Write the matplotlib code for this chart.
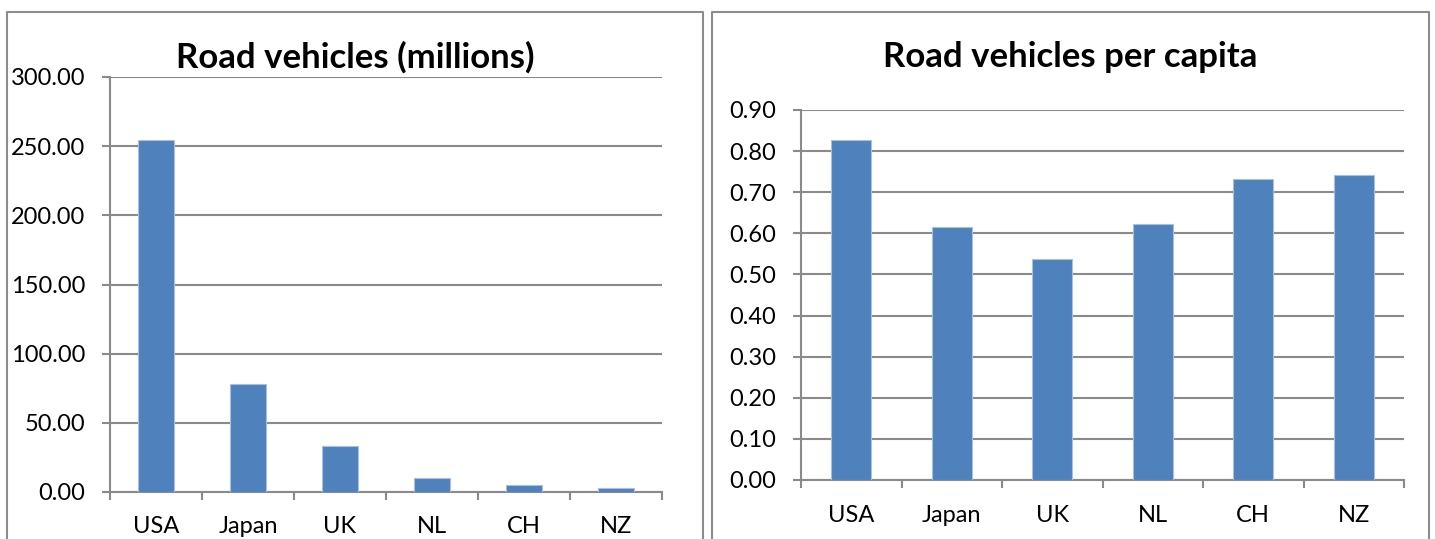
import matplotlib.pyplot as plt
from matplotlib.lines import Line2D
from matplotlib.ticker import FixedLocator, FormatStrFormatter

plt.rcParams['font.family'] = ['Lato', 'DejaVu Sans']

countries = ['USA', 'Japan', 'UK', 'NL', 'CH', 'NZ']
vehicles_millions = [254.1, 78.3, 33.3, 9.9, 5.1, 2.7]
vehicles_per_capita = [0.828, 0.615, 0.538, 0.622, 0.732, 0.742]

bar_color = '#4F81BD'
grid_color = '#8A8A8A'

fig = plt.figure(figsize=(14.35, 5.39), dpi=100)

# panel frames (bottom edge runs off the figure)
W, H = 1435.0, 539.0
for x0, x1 in [(7, 703), (712, 1429)]:
    xs = [x0 / W, x0 / W, x1 / W, x1 / W]
    ys = [0, 1 - 12 / H, 1 - 12 / H, 0]
    fig.add_artist(Line2D(xs, ys, transform=fig.transFigure,
                          color='#8C8C8C', lw=1.5))

ax1 = fig.add_axes([110 / W, 1 - 492 / H, 552 / W, 415 / H])
ax2 = fig.add_axes([801 / W, 1 - 480 / H, 603 / W, 370 / H])


def style(ax, values, ymax, step, xpad):
    x = list(range(len(values)))
    ax.bar(x, values, width=0.4, color=bar_color,
           edgecolor='#A9C0E0', linewidth=0.8, zorder=3)
    ax.set_xlim(-0.5, len(values) - 0.5)
    ax.set_ylim(0, ymax)
    ticks = [i * step for i in range(int(round(ymax / step)) + 1)]
    ax.set_yticks(ticks)
    ax.yaxis.set_major_formatter(FormatStrFormatter('%.2f'))
    ax.yaxis.grid(True, color=grid_color, lw=1.5, zorder=0)
    ax.set_axisbelow(True)
    for s in ['top', 'right']:
        ax.spines[s].set_visible(False)
    for s in ['left', 'bottom']:
        ax.spines[s].set_color(grid_color)
        ax.spines[s].set_linewidth(1.5)
    # boundary ticks without labels, labels centred on categories
    ax.xaxis.set_major_locator(FixedLocator([i - 0.5 for i in range(len(values) + 1)]))
    ax.xaxis.set_minor_locator(FixedLocator(x))
    ax.set_xticklabels([], minor=False)
    ax.set_xticklabels(countries, minor=True)
    ax.tick_params(axis='x', which='major', length=6, width=1.5, color=grid_color)
    ax.tick_params(axis='x', which='minor', length=0, pad=xpad, labelsize=17)
    ax.tick_params(axis='y', length=6, width=1.5, color=grid_color,
                   pad=12, labelsize=17)


style(ax1, vehicles_millions, 300, 50, 17)
style(ax2, vehicles_per_capita, 0.9, 0.1, 18)

fig.text(355 / W, 1 - 57 / H, 'Road vehicles (millions)', fontsize=25,
         fontweight='bold', ha='center', va='center')
fig.text(1070 / W, 1 - 57 / H, 'Road vehicles per capita', fontsize=25,
         fontweight='bold', ha='center', va='center')

fig.savefig('out.png', dpi=100)
